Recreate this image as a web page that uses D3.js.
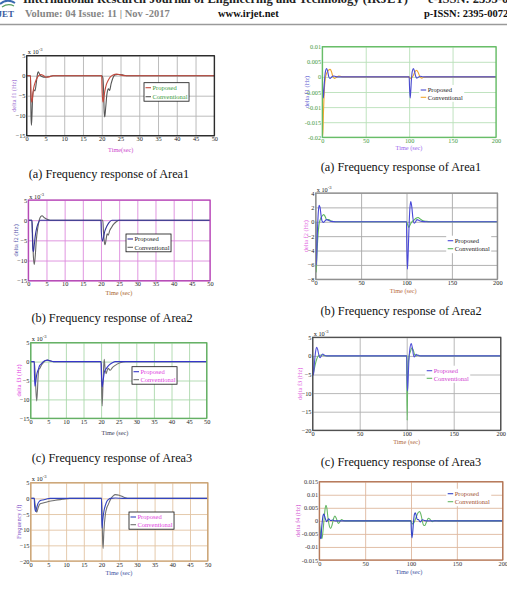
<!DOCTYPE html>
<html>
<head>
<meta charset="utf-8">
<script src="https://cdn.jsdelivr.net/npm/d3@7"></script>
<style>
	body { margin: 0; background: #fff; }
	svg { display: block; }
</style>
</head>
<body>
<svg id="page" width="507" height="589"></svg>
<script>
// ---- tick values and labels (frequency values are in units of 1e-3 Hz) ----
const ticksTime50 = [0, 5, 10, 15, 20, 25, 30, 35, 40, 45, 50];
const ticksTime200 = [0, 50, 100, 150, 200];
const ticksY5to15 = [5, 0, -5, -10, -15];
const ticksY5to20 = [5, 0, -5, -10, -15, -20];
const ticksY4to8 = [4, 2, 0, -2, -4, -6, -8];
const ticksY10to20 = [10, 5, 0, -5, -10, -15, -20];
const labelsY10to20 = ['0.01', '0.005', '0', '-0.005', '-0.01', '-0.015', '-0.02'];
const ticksY15to15 = [15, 10, 5, 0, -5, -10, -15];
const labelsY15to15 = ['0.015', '0.01', '0.005', '0', '-0.005', '-0.01', '-0.015'];
const legendNames = ['Proposed', 'Conventional'];
const captionsArea = ['(a) Frequency response of Area1', '(b) Frequency response of Area2', '(c) Frequency response of Area3'];

// ---- series: [time (s), delta f (1e-3 Hz)] ----
const area1LeftProposed = [[0,0],[1,0],[1.05,-2],[1.2,-5.5],[1.35,-6.6],[1.5,-6],[1.7,-4],[2,-2.5],[2.4,-1.3],[2.8,-0.5],[3.2,0],[3.8,0.3],[4.5,0],[5.2,-0.4],[6,-0.3],[7,0],[20,0],[20.05,-2],[20.2,-5.5],[20.35,-6.6],[20.5,-6],[20.8,-4],[21.2,-2.3],[21.7,-1.2],[22.3,-0.3],[23,0.2],[24,0.4],[25,0.2],[26.5,0],[50,0]];
const area1LeftConventional = [[0,0],[1,0],[1.05,-3],[1.15,-10],[1.25,-12.4],[1.4,-10],[1.6,-5],[1.9,-3.5],[2.2,-3.8],[2.6,-1.5],[2.9,0.6],[3.1,1],[3.5,0.2],[4,-0.2],[5,-0.4],[6,-0.2],[7,0],[20,0],[20.3,-0.5],[20.5,-4],[20.65,-9],[20.8,-10.3],[21.05,-8],[21.4,-4.5],[21.8,-3.3],[22.1,-3.7],[22.5,-2],[23,-0.5],[23.5,0.2],[24.3,0.3],[25.5,0.2],[26.5,0],[50,0]];

const area1RightProposed = [[0,0],[0.4,-3],[1.2,-7],[1.9,-4.5],[2.6,-1],[3.5,1.6],[5,2.8],[6.2,1.8],[7.5,0],[9,-0.5],[10.5,-0.1],[13,0.3],[15.5,0.1],[18,0],[100,0],[100.4,-3],[101.2,-7],[101.9,-4.5],[102.6,-1],[103.6,1.8],[105,2.8],[106.2,1.8],[107.5,0.2],[109,-0.4],[111,0],[113,0.2],[115.5,0.05],[118,0],[200,0]];
const area1RightConventional = [[0,0],[0.25,-19],[0.6,-19.5],[1.3,-12],[2.2,-5],[3.5,-0.5],[5,1.2],[7,2.2],[9,2.5],[10.5,1.8],[12,0.3],[14,-0.5],[16,-0.2],[19,0.3],[22,0.1],[25,0],[100,0],[100.6,-0.3],[101.5,-0.5],[103,-0.2],[104.5,0.3],[106.5,1.6],[108.5,2.2],[110.5,1.4],[112.5,0],[114.5,-0.4],[117,-0.1],[120,0],[200,0]];

const area2LeftProposed = [[0,0],[1,0],[1.1,-3],[1.25,-7],[1.4,-7.8],[1.6,-6.5],[1.9,-4],[2.3,-2],[2.7,-0.8],[3.2,0],[20,0],[20.1,-3],[20.4,-5.2],[20.7,-4.2],[21.1,-2.6],[21.6,-1.5],[22.2,-0.6],[23,0],[50,0]];
const area2LeftConventional = [[0,0],[1,0],[1.15,-3],[1.4,-9],[1.65,-11],[1.9,-9],[2.2,-5],[2.6,-2],[3,0],[3.4,0.9],[3.8,1.1],[4.3,0.7],[5,0.3],[6,0],[20.5,0],[20.7,-3],[21,-5.8],[21.15,-6.1],[21.4,-4.8],[21.7,-3.4],[22,-3.7],[22.4,-2.6],[22.9,-1.8],[23.5,-1],[24.2,-0.4],[25,0],[50,0]];

const area2RightProposed = [[0,0],[0.3,-4],[0.8,-6],[1.3,-4],[2,-1],[2.8,1.2],[3.8,2.3],[4.8,2],[5.8,1],[7,0.1],[8.5,-0.1],[10,0.1],[12,0.3],[14,0.2],[17,0.05],[22,0],[100,0],[100.3,-3],[101,-6.6],[101.8,-4.5],[102.7,-1],[103.7,1.8],[104.7,2.8],[105.8,2.1],[107,0.6],[108.4,-0.2],[110,0],[111.5,0.3],[113.5,0.2],[117,0.05],[122,0],[200,0]];
const area2RightConventional = [[0,0],[0.2,-5],[0.6,-7],[1.2,-5],[2.2,-2.5],[3.5,-0.5],[5,0.3],[7,0.8],[8.8,1],[10.5,0.7],[12,0.3],[14.5,0.3],[17,0.1],[22,0],[100,0],[101,-0.3],[102.5,-0.8],[104,-0.4],[106,0],[108,0.2],[110.5,0.5],[112.8,0.6],[115,0.4],[118,0.15],[122,0.05],[126,0],[200,0]];

const area3LeftProposed = [[0,0],[1,0],[1.05,-3],[1.2,-6.5],[1.4,-5.5],[1.7,-3.5],[1.9,-2.7],[2.2,-2],[2.5,-1.1],[3,-0.6],[3.6,0],[4.2,0.3],[4.8,0.4],[5.5,0.2],[6.5,0],[20,0],[20.1,-3],[20.3,-6.7],[20.5,-5.5],[20.8,-3.5],[21,-2.5],[21.5,-1.8],[22.4,-0.8],[23.2,-0.3],[24,0],[50,0]];
const area3LeftConventional = [[0,0],[1,0],[1.2,-2],[1.45,-7],[1.7,-10.4],[1.9,-8],[2.1,-4],[2.3,-2.2],[2.7,-1.6],[3,-1],[3.6,-0.3],[4.2,0.3],[4.8,0.4],[5.5,0.2],[6.5,0],[20,0],[20.1,-4],[20.3,-11.7],[20.5,-7],[20.75,-1],[20.9,0.6],[21.1,-1.5],[21.4,-3.2],[21.7,-2.4],[22,-1.8],[22.6,-2.3],[23.2,-1.6],[24,-1],[25.4,-0.3],[27,0],[50,0]];

const area3RightProposed = [[0,0],[0.2,-3],[0.6,-5.2],[1.2,-4.2],[2,-1.5],[3,1],[4.3,2.3],[5.5,1.5],[6.8,0],[7.8,-0.5],[9,-0.1],[10.6,0.5],[12.5,0.2],[15,0],[100,0],[100.3,-5],[100.8,-9.4],[101.4,-7],[102.2,-2],[103.2,1.5],[104.8,3.3],[106,2.2],[107,0.5],[108,-0.3],[109,0],[110,0.4],[111.5,0.2],[114,0],[200,0]];
const area3RightConventional = [[0,0],[0.2,-3],[0.6,-4.8],[1.5,-3.8],[3,-2],[4.5,-0.7],[6,0],[8,0.2],[10,0.3],[12,0.1],[15,0],[100,0],[100.2,-10],[100.5,-17.3],[100.9,-10],[101.5,-3],[102.5,0],[104,1.2],[105.5,2.2],[107,1.5],[108.5,0.3],[110,0],[112,0.2],[115,0],[200,0]];

const area4LeftProposed = [[0,0],[1,0],[1.1,-2.5],[1.4,-4.2],[1.7,-3],[2,-1.8],[2.4,-1],[3,-0.6],[3.5,-0.5],[4.5,-0.2],[5.5,0],[20,0],[20.05,-5],[20.15,-9.5],[20.35,-7],[20.7,-4],[21.1,-2.2],[21.5,-1],[22,-0.3],[22.6,0],[24,0.1],[26,0],[50,0]];
const area4LeftConventional = [[0,0],[1,0],[1.2,-1.5],[1.5,-3.8],[1.75,-4.4],[2.1,-3],[2.6,-1.8],[3.5,-1.5],[5,-1],[7,-0.6],[9,-0.3],[11,0],[20,0],[20.15,-5],[20.3,-13],[20.45,-16],[20.65,-11],[21.1,-5],[21.5,-3],[21.9,-2],[22.7,0],[23.3,0.8],[23.9,1.2],[25,1],[26.5,0.3],[28,0],[50,0]];

const area4RightProposed = [[0,0],[0.3,-3],[1,-6.5],[1.8,-6.8],[2.5,-3],[3.3,0],[4.2,2.2],[5,2.6],[5.8,1.8],[6.8,0.6],[8,-0.3],[9,0.2],[10.2,0.8],[11.5,0.3],[13,0.1],[14.5,0.3],[17,0],[100,0],[100.3,-3],[101,-6.5],[101.8,-4.5],[102.7,-0.5],[103.7,2.5],[104.6,3.1],[105.6,2.2],[106.8,0.5],[108,0.5],[110,-0.4],[112.5,0.4],[115,0.1],[118,0],[200,0]];
const area4RightConventional = [[0,0],[0.5,-2],[1.5,-5],[2.9,-6.8],[4,-4],[5.3,1],[6.5,5],[7.3,6],[8.2,5],[9.5,1],[11,-2],[12.4,-2.9],[14,-1.5],[15.5,0.8],[17,1.8],[18.5,1],[20.7,-1],[22.5,-0.3],[24.4,0.5],[26.5,0.1],[30,0],[100,0],[100.5,-0.5],[101.5,-1.2],[103,-0.8],[105,0.8],[107.5,3],[109.5,3.6],[111,2.2],[113.5,-1.5],[115,-1.8],[117,-0.3],[119,1],[121,0.5],[123,-0.3],[126,0.1],[130,0],[200,0]];

// ---- layout and styles ----
const fonts = {
	serif: '"Liberation Serif", "Times New Roman", serif',
	tick: 6.3,
	label: 6.3,
	legend: 6.5,
	caption: 12.3,
};

const panels = [
	{ box: { l: 26.7, r: 214.3, t: 55.7, b: 135.7 }, xTicks: ticksTime50, yTicks: ticksY5to15, yLabels: null, note: true,
		series: [area1LeftConventional, area1LeftProposed], colors: ['#555555', '#c4483c'],
		frame: '#1a1a1a', grid: '#b4b4b4', tickColor: '#222',
		yTitle: 'delta f1 (Hz)', yTitleX: 13.3, yTitleColor: '#9a6ad0', xTitle: 'Time(sec)', xTitlePos: [120.7, 149.5], xTitleColor: '#cc3fcc',
		legend: { x: 145.5, y: 87.7, gap: 9, boxed: true, text: '#3a9a3a' } },
	{ box: { l: 322.3, r: 496, t: 46.7, b: 137.3 }, xTicks: ticksTime200, yTicks: ticksY10to20, yLabels: labelsY10to20, note: false,
		series: [area1RightConventional, area1RightProposed], colors: ['#f0a630', '#4a4ad0'],
		frame: '#5cb85c', grid: '#b9e0b9', tickColor: '#3f9a3f',
		yTitle: 'delta f1 (Hz)', yTitleX: 306.5, yTitleColor: '#5a5ad0', xTitle: 'Time (sec)', xTitlePos: [409, 148], xTitleColor: '#9966ee',
		legend: { x: 420.7, y: 90, gap: 7.3, boxed: false, text: '#222' } },
	{ box: { l: 28.3, r: 210, t: 200, b: 280.7 }, xTicks: ticksTime50, yTicks: ticksY5to15, yLabels: null, note: true,
		series: [area2LeftConventional, area2LeftProposed], colors: ['#666666', '#33339a'],
		frame: '#b040b0', grid: '#dc8adc', tickColor: '#222',
		yTitle: 'delta f2 (Hz)', yTitleX: 15.7, yTitleColor: '#5050a8', xTitle: 'Time (sec)', xTitlePos: [119, 293], xTitleColor: '#a8642a',
		legend: { x: 127.5, y: 239, gap: 8.3, boxed: true, text: '#222' } },
	{ box: { l: 315.7, r: 497.3, t: 193, b: 279.3 }, xTicks: ticksTime200, yTicks: ticksY4to8, yLabels: null, note: true,
		series: [area2RightConventional, area2RightProposed], colors: ['#5cb85c', '#4848d8'],
		frame: '#8a8a8a', grid: '#a8a8a8', tickColor: '#222',
		yTitle: 'delta f2 (Hz)', yTitleX: 305.7, yTitleColor: '#e060e0', xTitle: 'Time (sec)', xTitlePos: [403.3, 290.5], xTitleColor: '#b86a40',
		legend: { x: 447.7, y: 240.7, gap: 8, boxed: false, text: '#222' } },
	{ box: { l: 30.7, r: 206.7, t: 342.7, b: 418.3 }, xTicks: ticksTime50, yTicks: ticksY5to15, yLabels: null, note: true,
		series: [area3LeftConventional, area3LeftProposed], colors: ['#707070', '#3636c8'],
		frame: '#5aaa5a', grid: '#acd8ac', tickColor: '#222',
		yTitle: 'delta f3 (Hz)', yTitleX: 18.3, yTitleColor: '#e040e0', xTitle: 'Time (sec)', xTitlePos: [115, 433], xTitleColor: '#40405a',
		legend: { x: 133.5, y: 371.7, gap: 8, boxed: true, text: '#e040e0' } },
	{ box: { l: 312.7, r: 500.7, t: 337.3, b: 430.3 }, xTicks: ticksTime200, yTicks: ticksY5to20, yLabels: null, note: true,
		series: [area3RightConventional, area3RightProposed], colors: ['#66b866', '#5050d8'],
		frame: '#444444', grid: '#b0b0b0', tickColor: '#222',
		yTitle: 'delta f3 (Hz)', yTitleX: 300, yTitleColor: '#e060e0', xTitle: 'Time (sec)', xTitlePos: [406.7, 442], xTitleColor: '#b06a40',
		legend: { x: 426.7, y: 370.7, gap: 7.6, boxed: false, text: '#d040d0' } },
	{ box: { l: 30.7, r: 207.7, t: 482.7, b: 561 }, xTicks: ticksTime50, yTicks: ticksY5to20, yLabels: null, note: true,
		series: [area4LeftConventional, area4LeftProposed], colors: ['#707070', '#3344c0'],
		frame: '#c8a070', grid: '#e2c4a4', tickColor: '#222',
		yTitle: 'Frequency (f)', yTitleX: 18.3, yTitleColor: '#8050c8', xTitle: 'Time (sec)', xTitlePos: [119, 572.5], xTitleColor: '#4050a0',
		legend: { x: 130.5, y: 517, gap: 7.7, boxed: true, text: '#e040e0' } },
	{ box: { l: 319.3, r: 502.7, t: 481.7, b: 560 }, xTicks: ticksTime200, yTicks: ticksY15to15, yLabels: labelsY15to15, note: false,
		series: [area4RightConventional, area4RightProposed], colors: ['#66b866', '#3344c8'],
		frame: '#b07050', grid: '#deb89e', tickColor: '#333',
		yTitle: 'delta f4 (Hz)', yTitleX: 298, yTitleColor: '#d050d0', xTitle: 'Time (sec)', xTitlePos: [409, 571.5], xTitleColor: '#4050a0',
		legend: { x: 447.7, y: 493.7, gap: 8, boxed: false, text: '#a05030' } },
];

const captions = [
	{ text: captionsArea[0], x: 109, y: 173.7 },
	{ text: captionsArea[0], x: 401, y: 166.7 },
	{ text: captionsArea[1], x: 112, y: 317.3 },
	{ text: captionsArea[1], x: 401, y: 311 },
	{ text: captionsArea[2], x: 112, y: 457.3 },
	{ text: captionsArea[2], x: 401, y: 462 },
];

const svg = d3.select('#page');
svg.append('rect').attr('width', 507).attr('height', 589).attr('fill', '#fff');

// journal header strip (top line is cut by the page edge, as in the scan)
const header = () => {
	const g = svg.append('g').style('font-family', fonts.serif).style('font-weight', 'bold');
	g.append('path').attr('d', 'M0,4 Q7,-2 15,3').attr('fill', 'none').attr('stroke', '#3a6ab0').attr('stroke-width', 2);
	g.append('path').attr('d', 'M2,7 Q8,3 14,6').attr('fill', 'none').attr('stroke', '#5aa060').attr('stroke-width', 1.2);
	g.append('text').attr('x', 14).attr('y', 16.5).attr('text-anchor', 'end').style('font-size', '9px').attr('fill', '#3a5aa0').text('IRJET');
	g.append('text').attr('x', 23).attr('y', 3).style('font-size', '12.5px').attr('fill', '#222')
		.text('International Research Journal of Engineering and Technology (IRJET)');
	g.append('text').attr('x', 428).attr('y', 3).style('font-size', '12.5px').attr('fill', '#222').text('e-ISSN: 2395-0056');
	g.append('text').attr('x', 25).attr('y', 16.8).style('font-size', '10.5px').attr('fill', '#858585').text('Volume: 04 Issue: 11 | Nov -2017');
	g.append('text').attr('x', 218).attr('y', 16.8).style('font-size', '10.5px').attr('fill', '#111').text('www.irjet.net');
	g.append('text').attr('x', 424).attr('y', 16.8).style('font-size', '10.5px').attr('fill', '#111').text('p-ISSN: 2395-0072');
	g.append('line').attr('x1', 0).attr('x2', 507).attr('y1', 24.5).attr('y2', 24.5).attr('stroke', '#9a9a9a').attr('stroke-width', 1.3);
};

const drawPanel = (p, idx) => {
	const { l, r, t, b } = p.box;
	const x = d3.scaleLinear().domain(d3.extent(p.xTicks)).range([l, r]);
	const y = d3.scaleLinear().domain(d3.extent(p.yTicks)).range([b, t]);
	const g = svg.append('g').attr('class', `panel-${idx}`).style('font-family', fonts.serif);

	// grid + tick labels
	const xAxis = g.append('g').attr('transform', `translate(0,${b})`)
		.call(d3.axisBottom(x).tickValues(p.xTicks).tickSize(-(b - t)).tickPadding(1.2).tickFormat(d3.format('d')));
	const yAxis = g.append('g').attr('transform', `translate(${l},0)`)
		.call(d3.axisLeft(y).tickValues(p.yTicks).tickSize(-(r - l)).tickPadding(1.2)
			.tickFormat((d, i) => (p.yLabels ? p.yLabels[i] : d3.format('d')(d))));
	[xAxis, yAxis].forEach((ax) => {
		ax.select('.domain').remove();
		ax.selectAll('.tick line').attr('stroke', p.grid).attr('stroke-width', 0.9);
		ax.selectAll('.tick text').attr('fill', p.tickColor).style('font-size', `${fonts.tick}px`).style('font-family', fonts.serif);
	});

	// series
	const clipId = `clip-${idx}`;
	g.append('clipPath').attr('id', clipId).append('rect').attr('x', l).attr('y', t).attr('width', r - l).attr('height', b - t);
	const line = d3.line().x((d) => x(d[0])).y((d) => y(d[1])).curve(d3.curveMonotoneX);
	p.series.forEach((s, i) => {
		g.append('path').datum(s).attr('clip-path', `url(#${clipId})`)
			.attr('fill', 'none').attr('stroke', p.colors[i]).attr('stroke-width', 1.1).attr('d', line);
	});

	// frame
	g.append('rect').attr('x', l).attr('y', t).attr('width', r - l).attr('height', b - t)
		.attr('fill', 'none').attr('stroke', p.frame).attr('stroke-width', 1.2);

	// exponent note
	if (p.note) {
		const note = g.append('text').attr('x', l + 1).attr('y', t - 1.5).style('font-size', `${fonts.tick}px`).attr('fill', '#222');
		note.append('tspan').text('x 10');
		note.append('tspan').attr('dy', -3).style('font-size', '4.5px').text('-3');
	}

	// axis titles
	g.append('text').attr('transform', `translate(${p.yTitleX},${(t + b) / 2}) rotate(-90)`)
		.attr('text-anchor', 'middle').attr('dy', '0.35em').style('font-size', `${fonts.label}px`)
		.attr('fill', p.yTitleColor).text(p.yTitle);
	g.append('text').attr('x', p.xTitlePos[0]).attr('y', p.xTitlePos[1]).attr('dy', '0.35em')
		.attr('text-anchor', 'middle').style('font-size', `${fonts.label}px`).attr('fill', p.xTitleColor).text(p.xTitle);

	// legend (proposed first)
	const lg = g.append('g');
	const box = lg.append('rect').attr('fill', '#fff');
	const order = [1, 0];
	let maxW = 0;
	order.forEach((si, row) => {
		const ry = p.legend.y + row * p.legend.gap;
		lg.append('line').attr('x1', p.legend.x).attr('x2', p.legend.x + 5.5).attr('y1', ry).attr('y2', ry)
			.attr('stroke', p.colors[si]).attr('stroke-width', 1.1);
		const tx = lg.append('text').attr('x', p.legend.x + 7).attr('y', ry).attr('dy', '0.35em')
			.style('font-size', `${fonts.legend}px`).attr('fill', p.legend.text).text(legendNames[row]);
		maxW = Math.max(maxW, tx.node().getComputedTextLength());
	});
	box.attr('x', p.legend.x - 1.5).attr('y', p.legend.y - 5)
		.attr('width', maxW + 10).attr('height', p.legend.gap + 9.5);
	if (p.legend.boxed) box.attr('stroke', '#111').attr('stroke-width', 0.8);
};

header();
panels.forEach(drawPanel);

svg.append('g').selectAll('text').data(captions).join('text')
	.attr('x', (d) => d.x).attr('y', (d) => d.y).attr('dy', '0.35em')
	.attr('text-anchor', 'middle').style('font-family', fonts.serif).style('font-size', `${fonts.caption}px`)
	.attr('fill', '#111').text((d) => d.text);
</script>
</body>
</html>
